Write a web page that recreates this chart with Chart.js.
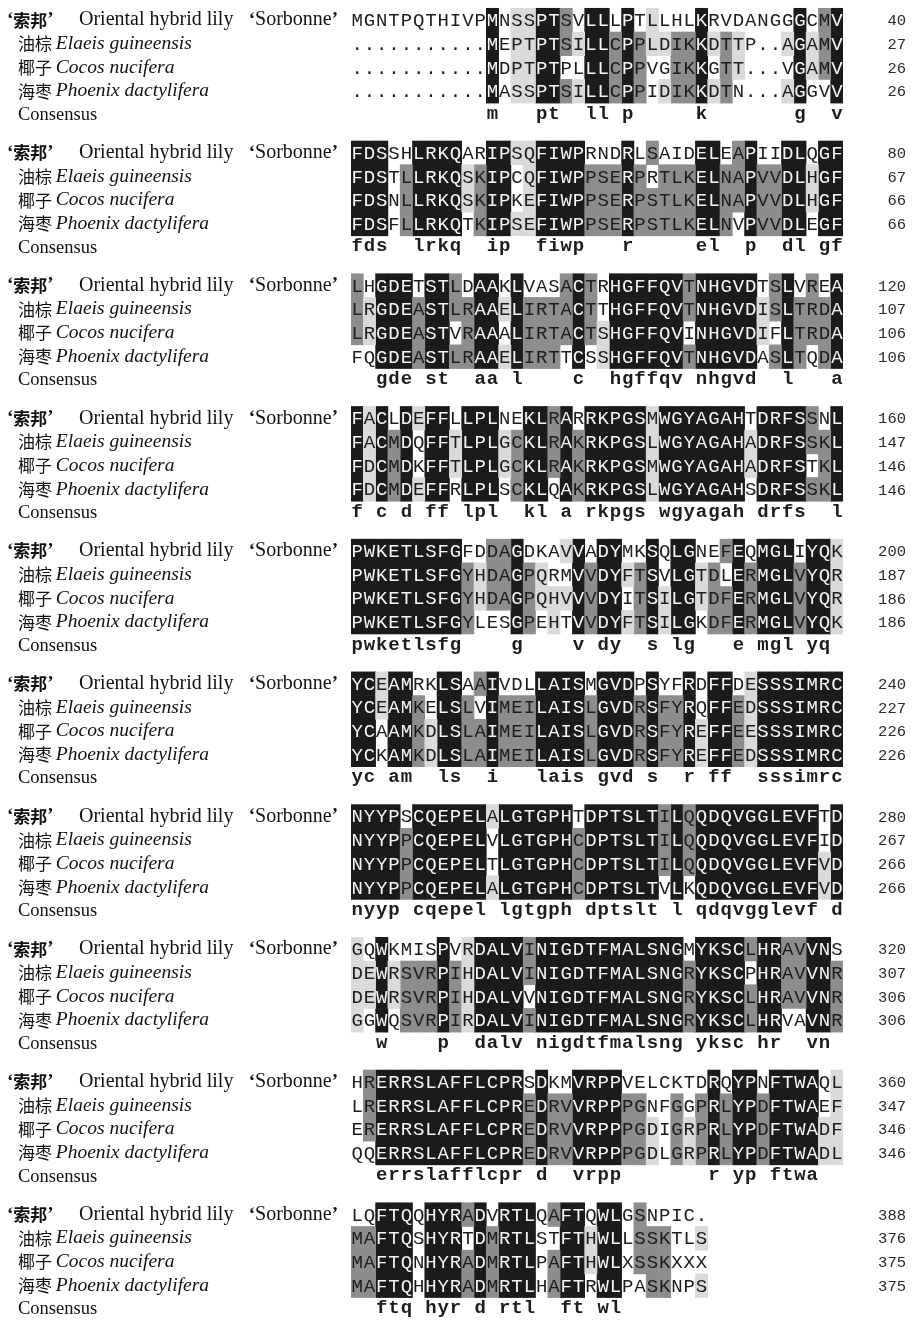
<!DOCTYPE html>
<html>
<head>
<meta charset="utf-8">
<script src="https://cdn.jsdelivr.net/npm/chart.js@4.4.1/dist/chart.umd.min.js"></script>
<style>
  html, body { margin: 0; padding: 0; background: #ffffff; }
  #wrap { width: 923px; height: 1326px; }
</style>
</head>
<body>
<div id="wrap"><canvas id="align" width="923" height="1326"></canvas></div>
<script>
// Protein alignment, 40 residues per block
const lilyBlocks = [
  "MGNTPQTHIVPMNSSPTSVLLLPTLLHLKRVDANGGGCMV",
  "FDSSHLRKQARIPSQFIWPRNDRLSAIDELEAPIIDLQGF",
  "LHGDETSTLDAAKLVASACTRHGFFQVTNHGVDTSLVREA",
  "FACLDEFFLLPLNEKLRARRKPGSMWGYAGAHTDRFSSNL",
  "PWKETLSFGFDDAGDKAVVADYMKSQLGNEFEQMGLIYQK",
  "YCEAMRKLSAAIVDLLAISMGVDPSYFRDFFDESSSIMRC",
  "NYYPSCQEPELALGTGPHTDPTSLTILQQDQVGGLEVFTD",
  "GQWKMISPVRDALVINIGDTFMALSNGMYKSCLHRAVVNS",
  "HRERRSLAFFLCPRSDKMVRPPVELCKTDRQYPNFTWAQL",
  "LQFTQQHYRADVRTLQAFTQWLGSNPIC."
];
const palmBlocks = [
  "...........MEPTPTSILLCPPLDIKKDTTP..AGAMV",
  "FDSTLLRKQSKIPCQFIWPPSERPRTLKELNAPVVDLHGF",
  "LRGDEASTLRAAELIRTACTTHGFFQVTNHGVDISLTRDA",
  "FACMDQFFTLPLGCKLRAKRKPGSLWGYAGAHADRFSSKL",
  "PWKETLSFGYHDAGPQRMVVDYFTSVLGTDLERMGLVYQR",
  "YCEAMKELSLVIMEILAISLGVDRSFYRQFFEDSSSIMRC",
  "NYYPPCQEPELVLGTGPHCDPTSLTILQQDQVGGLEVFID",
  "DEWRSVRPIHDALVINIGDTFMALSNGRYKSCPHRAVVNR",
  "LRERRSLAFFLCPREDRVVRPPPGNFGGPRLYPDFTWAEF",
  "MAFTQSHYRTDMRTLSTFTHWLLSSKTLS"
];
const coconutBlocks = [
  "...........MDPTPTPLLLCPPVGIKKGTT...VGAMV",
  "FDSNLLRKQSKIPKEFIWPPSERPSTLKELNAPVVDLHGF",
  "LRGDEASTVRAAALIRTACTSHGFFQVINHGVDIFLTRDA",
  "FDCMDKFFTLPLGCKLRAKRKPGSMWGYAGAHADRFSTKL",
  "PWKETLSFGYHDAGPQHVVVDYITSILGTDFERMGLVYQR",
  "YCAAMKDLSLAIMEILAISLGVDRSFYREFFEESSSIMRC",
  "NYYPPCQEPELTLGTGPHCDPTSLTILQQDQVGGLEVFVD",
  "DEWRSVRPIHDALVVNIGDTFMALSNGRYKSCLHRAVVNR",
  "ERERRSLAFFLCPREDRVVRPPPGDIGRPRLYPDFTWADF",
  "MAFTQNHYRADMRTLPAFTHWLXSSKXXX"
];
const dateBlocks = [
  "...........MASSPTSILLCPPIDIKKDTN...AGGVV",
  "FDSFLLRKQTKIPSEFIWPPSERPSTLKELNVPVVDLEGF",
  "FQGDEASTLRAAELIRTTCSSHGFFQVTNHGVDASLTQDA",
  "FDCMDEFFRLPLSCKLQAKRKPGSLWGYAGAHSDRFSSKL",
  "PWKETLSFGYLESGPEHTVVDYFTSILGKDFERMGLVYQK",
  "YCKAMKDLSLAIMEILAISLGVDRSFYREFFEDSSSIMRC",
  "NYYPPCQEPELALGTGPHCDPTSLTVLKQDQVGGLEVFVD",
  "GGWQSVRPIRDALVINIGDTFMALSNGRYKSCLHRVAVNR",
  "QQERRSLAFFLCPREDRVVRPPPGDLGRPRLYPDFTWADL",
  "MAFTQHHYRADMRTLHAFTRWLPASKNPS"
];
const consensusBlocks = [
  "           m   pt  ll p     k       g  v",
  "fds  lrkq  ip  fiwp   r     el  p  dl gf",
  "  gde st  aa l    c  hgffqv nhgvd  l   a",
  "f c d ff lpl  kl a rkpgs wgyagah drfs  l",
  "pwketlsfg    g    v dy  s lg   e mgl yq ",
  "yc am  ls  i   lais gvd s  r ff  sssimrc",
  "nyyp cqepel lgtgph dptslt l qdqvgglevf d",
  "  w    p  dalv nigdtfmalsng yksc hr  vn ",
  "  errslafflcpr d  vrpp       r yp ftwa  ",
  "  ftq hyr d rtl  ft wl"
];

// Residue number at the end of each block line
const lilyEnds    = [40, 80, 120, 160, 200, 240, 280, 320, 360, 388];
const palmEnds    = [27, 67, 107, 147, 187, 227, 267, 307, 347, 376];
const coconutEnds = [26, 66, 106, 146, 186, 226, 266, 306, 346, 375];
const dateEnds    = [26, 66, 106, 146, 186, 226, 266, 306, 346, 375];

// Row names
const namesCN    = ["索邦", "油棕", "椰子", "海枣"];
const namesLatin = ["Oriental hybrid lily", "Elaeis guineensis", "Cocos nucifera", "Phoenix dactylifera"];
const cultivar   = "Sorbonne";
const consensusLabel = "Consensus";

const columnLabels = Array.from({ length: 40 }, (_, i) => String(i + 1));

// ---- layout helpers ----
const BLOCK_PITCH = 5.6;          // rows from one block to the next
const rowValue = (b, r) => b * BLOCK_PITCH + r;
const seqRows = [lilyBlocks, palmBlocks, coconutBlocks, dateBlocks];
const endRows = [lilyEnds, palmEnds, coconutEnds, dateEnds];

const SHADE = { 4: "#1b1b1b", 3: "#8d8d8d", 2: "#dadada" };

// how many of the four sequences share this residue in its column
function identity(b, c, ch) {
  if (!ch || ch === "." || ch === " ") return 0;
  let n = 0;
  for (const rows of seqRows) if (rows[b][c] === ch) n++;
  return n;
}

const cells = { 4: [], 3: [], 2: [] };
seqRows.forEach((rows, r) => {
  rows.forEach((str, b) => {
    for (let c = 0; c < str.length; c++) {
      const lv = identity(b, c, str[c]);
      if (lv >= 2) {
        const v = rowValue(b, r);
        cells[lv].push({ x: columnLabels[c], y: [v - 0.5, v + 0.5] });
      }
    }
  });
});

const CJK = '"Noto Sans CJK SC", "Noto Sans CJK JP", sans-serif';
const SERIF = '"Liberation Serif", "DejaVu Serif", serif';
const MONO = '"Liberation Mono", "DejaVu Sans Mono", monospace';

function drawSegments(ctx, x, y, segs) {
  for (const s of segs) {
    ctx.font = s.font;
    ctx.fillText(s.text, x, y);
    x += ctx.measureText(s.text).width + (s.gap || 0);
  }
  return x;
}

const alignmentText = {
  id: "alignmentText",
  afterDatasetsDraw(chart) {
    const { ctx } = chart;
    const xs = chart.scales.x, ys = chart.scales.y;
    ctx.save();
    ctx.textBaseline = "middle";

    // residues
    ctx.textAlign = "center";
    ctx.font = "19px " + MONO;
    seqRows.forEach((rows, r) => {
      rows.forEach((str, b) => {
        const py = ys.getPixelForValue(rowValue(b, r)) + 1;
        for (let c = 0; c < str.length; c++) {
          const lv = identity(b, c, str[c]);
          ctx.fillStyle = lv === 4 ? "#f5f5f5" : "#1d1d1d";
          ctx.fillText(str[c], xs.getPixelForValue(c), py);
        }
      });
    });

    // consensus line
    ctx.fillStyle = "#1d1d1d";
    ctx.font = "bold 19px " + MONO;
    consensusBlocks.forEach((str, b) => {
      const py = ys.getPixelForValue(rowValue(b, 4)) - 1;
      for (let c = 0; c < str.length; c++) {
        if (str[c] !== " ") ctx.fillText(str[c], xs.getPixelForValue(c), py);
      }
    });

    // residue counts on the right
    ctx.textAlign = "right";
    ctx.font = "15.5px " + MONO;
    ctx.fillStyle = "#2a2a2a";
    endRows.forEach((ends, r) => {
      ends.forEach((n, b) => {
        ctx.fillText(String(n), 906, ys.getPixelForValue(rowValue(b, r)) + 1);
      });
    });

    // row names on the left
    ctx.fillStyle = "#111111";
    const QUOTE = "bold 19px " + SERIF;
    for (let b = 0; b < lilyBlocks.length; b++) {
      const y0 = ys.getPixelForValue(rowValue(b, 0));
      ctx.textAlign = "left";
      drawSegments(ctx, 7, y0, [
        { text: "\u2018", font: QUOTE },
        { text: namesCN[0], font: "bold 17px " + CJK },
        { text: "\u2019", font: QUOTE }
      ]);
      ctx.font = "20px " + SERIF;
      ctx.fillText(namesLatin[0], 79, y0);
      // cultivar name, quoted, ends at the edge of the label column
      ctx.font = QUOTE;
      const qw = ctx.measureText("\u2019").width;
      ctx.font = "20px " + SERIF;
      const cw = ctx.measureText(cultivar).width;
      drawSegments(ctx, 338 - 2 * qw - cw, y0, [
        { text: "\u2018", font: QUOTE },
        { text: cultivar, font: "20px " + SERIF },
        { text: "\u2019", font: QUOTE }
      ]);
      for (let r = 1; r < 4; r++) {
        const yr = ys.getPixelForValue(rowValue(b, r));
        drawSegments(ctx, 18, yr, [
          { text: namesCN[r] + " ", font: "17px " + CJK },
          { text: namesLatin[r], font: "italic 19.5px " + SERIF }
        ]);
      }
      ctx.font = "18.5px " + SERIF;
      ctx.fillText(consensusLabel, 18, ys.getPixelForValue(rowValue(b, 4)));
    }
    ctx.restore();
  }
};

const shadeDataset = (lv) => ({
  data: cells[lv],
  backgroundColor: SHADE[lv],
  borderWidth: 0,
  grouped: false,
  barPercentage: 1,
  categoryPercentage: 1
});

new Chart(document.getElementById("align"), {
  type: "bar",
  data: {
    labels: columnLabels,
    datasets: [shadeDataset(2), shadeDataset(3), shadeDataset(4)]
  },
  options: {
    responsive: false,
    animation: false,
    layout: { padding: { left: 351, right: 80, top: 0, bottom: 0 } },
    plugins: { legend: { display: false }, tooltip: { enabled: false } },
    scales: {
      x: { type: "category", display: false, offset: true },
      y: { type: "linear", display: false, reverse: true, min: -0.85, max: 55.1 }
    }
  },
  plugins: [alignmentText]
});
</script>
</body>
</html>
